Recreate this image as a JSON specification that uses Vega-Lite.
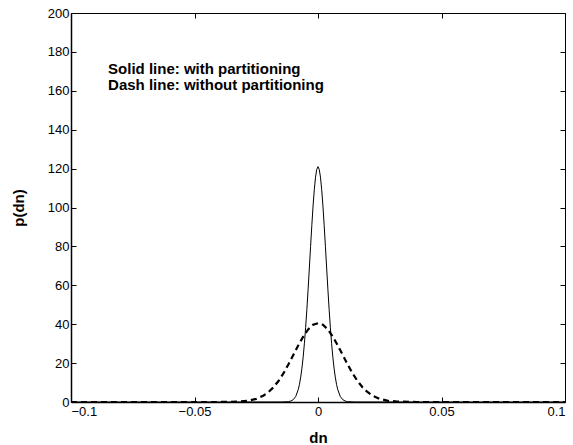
{
  "$schema": "https://vega.github.io/schema/vega-lite/v6.json",
  "autosize": "none",
  "width": 494,
  "height": 389,
  "padding": {"left": 71, "top": 13, "right": 8, "bottom": 43},
  "background": "white",
  "config": {
    "view": {"stroke": null},
    "font": "Liberation Sans",
    "axis": {"grid": false, "labelFont": "Liberation Sans", "titleFont": "Liberation Sans", "labelColor": "black", "titleColor": "black", "domainColor": "black", "tickColor": "black"}
  },
  "datasets": {
    "solid": [
      {"dn": -0.1, "p": 0}, {"dn": -0.02, "p": 0}, {"dn": -0.015, "p": 0.003}, {"dn": -0.012, "p": 0.16},
      {"dn": -0.011, "p": 0.5}, {"dn": -0.01, "p": 1.23}, {"dn": -0.009, "p": 2.9}, {"dn": -0.008, "p": 6.4},
      {"dn": -0.0075, "p": 9.1}, {"dn": -0.007, "p": 12.8}, {"dn": -0.0065, "p": 17.4}, {"dn": -0.006, "p": 23.2},
      {"dn": -0.0055, "p": 30.2}, {"dn": -0.005, "p": 38.4}, {"dn": -0.0045, "p": 47.7}, {"dn": -0.004, "p": 58.0},
      {"dn": -0.0035, "p": 68.9}, {"dn": -0.003, "p": 80.0}, {"dn": -0.0025, "p": 90.8}, {"dn": -0.002, "p": 100.7},
      {"dn": -0.0015, "p": 109.1}, {"dn": -0.001, "p": 115.6}, {"dn": -0.0005, "p": 119.6}, {"dn": 0, "p": 121},
      {"dn": 0.0005, "p": 119.6}, {"dn": 0.001, "p": 115.6}, {"dn": 0.0015, "p": 109.1}, {"dn": 0.002, "p": 100.7},
      {"dn": 0.0025, "p": 90.8}, {"dn": 0.003, "p": 80.0}, {"dn": 0.0035, "p": 68.9}, {"dn": 0.004, "p": 58.0},
      {"dn": 0.0045, "p": 47.7}, {"dn": 0.005, "p": 38.4}, {"dn": 0.0055, "p": 30.2}, {"dn": 0.006, "p": 23.2},
      {"dn": 0.0065, "p": 17.4}, {"dn": 0.007, "p": 12.8}, {"dn": 0.0075, "p": 9.1}, {"dn": 0.008, "p": 6.4},
      {"dn": 0.009, "p": 2.9}, {"dn": 0.01, "p": 1.23}, {"dn": 0.011, "p": 0.5}, {"dn": 0.012, "p": 0.16},
      {"dn": 0.015, "p": 0.003}, {"dn": 0.02, "p": 0}, {"dn": 0.1, "p": 0}
    ],
    "dash": [
      {"dn": -0.1, "p": 0}, {"dn": -0.05, "p": 0}, {"dn": -0.04, "p": 0.01}, {"dn": -0.032, "p": 0.21},
      {"dn": -0.028, "p": 0.71}, {"dn": -0.025, "p": 1.62}, {"dn": -0.022, "p": 3.34}, {"dn": -0.02, "p": 5.15},
      {"dn": -0.018, "p": 7.6}, {"dn": -0.016, "p": 10.8}, {"dn": -0.014, "p": 14.7}, {"dn": -0.012, "p": 19.3},
      {"dn": -0.01, "p": 24.2}, {"dn": -0.008, "p": 29.1}, {"dn": -0.006, "p": 33.6}, {"dn": -0.004, "p": 37.3},
      {"dn": -0.002, "p": 39.7}, {"dn": 0, "p": 40.5}, {"dn": 0.002, "p": 39.7}, {"dn": 0.004, "p": 37.3},
      {"dn": 0.006, "p": 33.6}, {"dn": 0.008, "p": 29.1}, {"dn": 0.01, "p": 24.2}, {"dn": 0.012, "p": 19.3},
      {"dn": 0.014, "p": 14.7}, {"dn": 0.016, "p": 10.8}, {"dn": 0.018, "p": 7.6}, {"dn": 0.02, "p": 5.15},
      {"dn": 0.022, "p": 3.34}, {"dn": 0.025, "p": 1.62}, {"dn": 0.028, "p": 0.71}, {"dn": 0.032, "p": 0.21},
      {"dn": 0.04, "p": 0.01}, {"dn": 0.05, "p": 0}, {"dn": 0.1, "p": 0}
    ],
    "notes": [
      {"dn": -0.085, "p": 171.2, "label": "Solid line: with partitioning"},
      {"dn": -0.085, "p": 163.0, "label": "Dash line: without partitioning"}
    ]
  },
  "resolve": {"axis": {"x": "independent", "y": "independent"}},
  "layer": [
    {
      "data": {"name": "dash"},
      "mark": {"type": "line", "color": "black", "strokeWidth": 2.2, "strokeDash": [6, 4], "clip": true},
      "encoding": {
        "x": {"field": "dn", "type": "quantitative", "scale": {"domain": [-0.1, 0.1], "nice": false, "zero": false},
          "axis": {"orient": "bottom", "values": [-0.1, -0.05, 0, 0.05, 0.1], "format": "~g", "tickSize": -5, "labelPadding": 8, "labelFontSize": 13, "domainWidth": 1.5, "title": "dn", "titleFontSize": 15, "titleFontWeight": "bold", "titlePadding": 12}},
        "y": {"field": "p", "type": "quantitative", "scale": {"domain": [0, 200], "nice": false},
          "axis": {"orient": "left", "values": [0, 20, 40, 60, 80, 100, 120, 140, 160, 180, 200], "tickSize": -5, "labelPadding": 7, "labelFontSize": 13, "domainWidth": 1.5, "title": "p(dn)", "titleFontSize": 15, "titleFontWeight": "bold", "titlePadding": 21}}
      }
    },
    {
      "data": {"name": "solid"},
      "mark": {"type": "line", "color": "black", "strokeWidth": 1, "clip": true},
      "encoding": {
        "x": {"field": "dn", "type": "quantitative", "scale": {"domain": [-0.1, 0.1], "nice": false, "zero": false},
          "axis": {"orient": "top", "values": [-0.1, -0.05, 0, 0.05, 0.1], "tickSize": -5, "labels": false, "title": null, "domainWidth": 1}},
        "y": {"field": "p", "type": "quantitative", "scale": {"domain": [0, 200], "nice": false},
          "axis": {"orient": "right", "values": [0, 20, 40, 60, 80, 100, 120, 140, 160, 180, 200], "tickSize": -5, "labels": false, "title": null, "domainWidth": 1}}
      }
    },
    {
      "data": {"name": "notes"},
      "mark": {"type": "text", "align": "left", "baseline": "middle", "fontWeight": "bold", "fontSize": 15, "color": "black"},
      "encoding": {
        "x": {"field": "dn", "type": "quantitative", "axis": null},
        "y": {"field": "p", "type": "quantitative", "axis": null},
        "text": {"field": "label"}
      }
    }
  ]
}
